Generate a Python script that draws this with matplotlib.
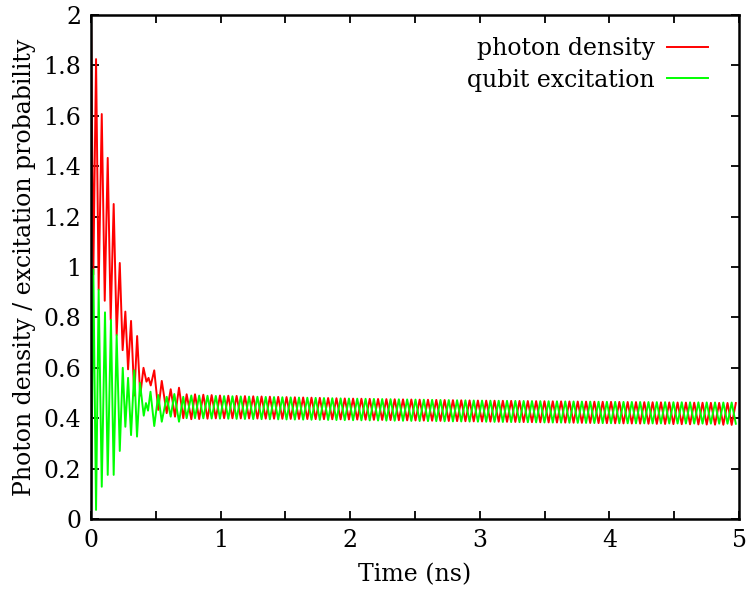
import numpy as np
import matplotlib
matplotlib.use("Agg")
import matplotlib.pyplot as plt
from matplotlib.ticker import MultipleLocator, FormatStrFormatter

# Early part: turning points (time in ns, value)
red_t = [0, 0.018, 0.039, 0.059, 0.083, 0.106, 0.129, 0.152, 0.175, 0.198,
         0.222, 0.244, 0.265, 0.286, 0.309, 0.334, 0.356, 0.380, 0.405, 0.428,
         0.444, 0.461, 0.488, 0.519, 0.546, 0.584, 0.615, 0.648, 0.679, 0.712,
         0.738, 0.774]
red_v = [2.0, 0.97, 1.825, 0.91, 1.607, 0.866, 1.433, 0.79, 1.25, 0.73,
         1.016, 0.67, 0.823, 0.594, 0.786, 0.49, 0.726, 0.49, 0.60, 0.545,
         0.56, 0.53, 0.59, 0.433, 0.548, 0.42, 0.515, 0.406, 0.521, 0.40,
         0.495, 0.396]

green_t = [0, 0.018, 0.039, 0.059, 0.083, 0.108, 0.129, 0.154, 0.175, 0.198,
           0.222, 0.245, 0.265, 0.286, 0.309, 0.334, 0.355, 0.378, 0.407, 0.424,
           0.440, 0.459, 0.488, 0.519, 0.546, 0.584, 0.615, 0.643, 0.679, 0.712,
           0.738, 0.774]
green_v = [0.0, 0.99, 0.036, 0.91, 0.128, 0.82, 0.175, 0.79, 0.175, 0.73,
           0.27, 0.60, 0.366, 0.56, 0.333, 0.59, 0.327, 0.54, 0.41, 0.46,
           0.43, 0.505, 0.369, 0.492, 0.386, 0.485, 0.406, 0.496, 0.386, 0.485,
           0.40, 0.49]

# Steady part: envelope of the fast oscillation, read at a few times
env_t = [0.8, 1, 2, 3, 4, 5]
red_hi = [0.495, 0.49, 0.478, 0.47, 0.465, 0.46]
red_lo = [0.396, 0.40, 0.395, 0.387, 0.38, 0.373]
green_hi = [0.49, 0.488, 0.478, 0.47, 0.465, 0.462]
green_lo = [0.40, 0.398, 0.392, 0.386, 0.38, 0.378]
period = 0.0642   # ns, counted from the peaks
steady_start = 0.8025

labels = ["photon density", "qubit excitation"]

# turning points of the steady part (red peaks where green dips)
tt = []
rv = []
gv = []
k = 0
while steady_start + k * period / 2 <= 5.0:
    t = steady_start + k * period / 2
    tt.append(t)
    if k % 2 == 0:
        rv.append(np.interp(t, env_t, red_hi))
        gv.append(np.interp(t, env_t, green_lo))
    else:
        rv.append(np.interp(t, env_t, red_lo))
        gv.append(np.interp(t, env_t, green_hi))
    k += 1

red_x = list(red_t) + tt
red_y = list(red_v) + rv
green_x = list(green_t) + tt
green_y = list(green_v) + gv

plt.rcParams['font.family'] = ['DejaVu Serif']
fig = plt.figure(figsize=(7.46, 5.89), dpi=100)
ax = fig.add_axes([91 / 746, 1 - 519 / 589, (739 - 91) / 746, (519 - 15) / 589])

ax.plot(red_x, red_y, color="#ff0000", lw=1.4, label=labels[0])
ax.plot(green_x, green_y, color="#00ff00", lw=1.4, label=labels[1])

ax.set_xlim(0, 5)
ax.set_ylim(0, 2)
ax.xaxis.set_major_locator(MultipleLocator(1))
ax.xaxis.set_minor_locator(MultipleLocator(0.5))
ax.yaxis.set_major_locator(MultipleLocator(0.2))
ax.yaxis.set_major_formatter(FormatStrFormatter("%g"))
ax.tick_params(which="both", direction="in", top=True, right=True,
               length=6, width=1.3, labelsize=17, pad=7)

for s in ax.spines.values():
    s.set_linewidth(1.8)

ax.set_xlabel("Time (ns)", fontsize=17, labelpad=8)
ax.set_ylabel("Photon density / excitation probability", fontsize=17, labelpad=5)

ax.legend(loc="upper right", bbox_to_anchor=(1 - 31 / 648, 1 - 22 / 504),
          frameon=False, markerfirst=False, fontsize=17,
          handlelength=1.75, handletextpad=0.5, labelspacing=0.37,
          borderaxespad=0, borderpad=0)

fig.savefig("out.png", dpi=100)
